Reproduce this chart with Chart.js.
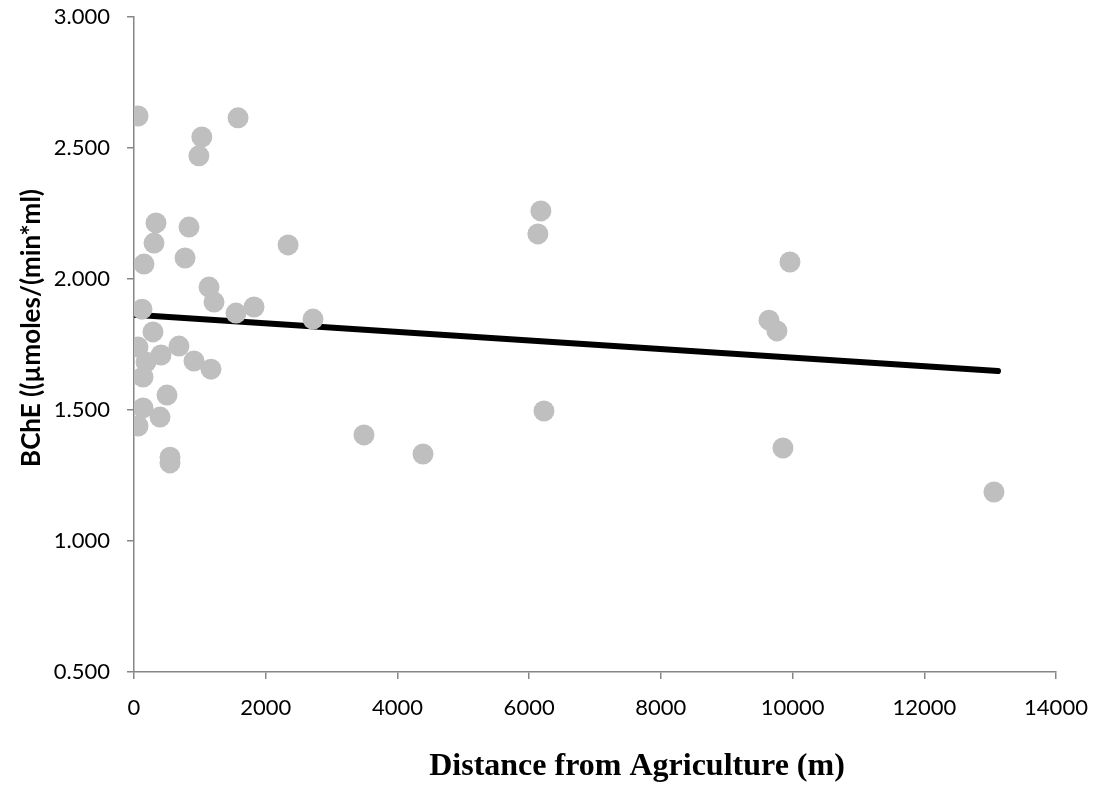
<!DOCTYPE html>
<html>
<head>
<meta charset="utf-8">
<script src="https://cdn.jsdelivr.net/npm/chart.js@4"></script>
<style>
  html, body { margin: 0; padding: 0; background: #fff; }
  #wrap { width: 1096px; height: 787px; }
</style>
</head>
<body>
<div id="wrap"><canvas id="chart" width="1096" height="787"></canvas></div>
<script>
// distance from agriculture (m) and BChE activity for each sample
const distance = [61, 1580, 1030, 985, 334, 835, 304, 2340, 152, 775, 1139, 1215, 121, 1549,
  1822, 2718, 288, 61, 683, 410, 182, 911, 1169, 137, 501, 137, 395, 61, 547, 547,
  3492, 4388, 6178, 6133, 6225, 9642, 9763, 9960, 9854, 13058];
const bche = [2.622, 2.615, 2.542, 2.470, 2.214, 2.198, 2.137, 2.130, 2.057, 2.080, 1.969, 1.912, 1.885, 1.870,
  1.893, 1.847, 1.798, 1.740, 1.744, 1.710, 1.683, 1.687, 1.656, 1.626, 1.557, 1.508, 1.473, 1.439, 1.320, 1.298,
  1.405, 1.332, 2.260, 2.172, 1.496, 1.843, 1.802, 2.065, 1.355, 1.187];

// linear trendline end points
const trendX = [0, 13119];
const trendY = [1.864, 1.649];

const xTicks = [0, 2000, 4000, 6000, 8000, 10000, 12000, 14000];
const yTicks = [0.5, 1.0, 1.5, 2.0, 2.5, 3.0];

const xTitle = 'Distance from Agriculture (m)';
const yTitle = 'BChE ((µmoles/(min*ml)';

const points = distance.map((d, i) => ({ x: d, y: bche[i] }));
const trend = trendX.map((d, i) => ({ x: d, y: trendY[i] }));

// axis titles sit a little off the axis centre, like the Excel original
const axisTitles = {
  id: 'axisTitles',
  afterDraw(chart) {
    const c = chart.ctx;
    c.save();
    c.fillStyle = '#000';
    c.textAlign = 'center';
    c.textBaseline = 'alphabetic';
    c.font = 'bold 32px "Liberation Serif"';
    c.fillText(xTitle, 637, 775);
    c.translate(40, 328);
    c.rotate(-Math.PI / 2);
    c.font = 'bold 26px Lato';
    c.fillText(yTitle, 0, 0);
    c.restore();
  }
};

const ctx = document.getElementById('chart').getContext('2d');

new Chart(ctx, {
  type: 'scatter',
  data: {
    datasets: [
      {
        data: points,
        backgroundColor: '#bfbfbf',
        borderWidth: 0,
        pointRadius: 10.5,
        pointHoverRadius: 10.5
      },
      {
        type: 'line',
        data: trend,
        borderColor: '#000',
        borderWidth: 6,
        borderCapStyle: 'round',
        pointRadius: 0,
        fill: false
      }
    ]
  },
  options: {
    responsive: false,
    animation: false,
    layout: { padding: { top: 17, right: 40, left: 0, bottom: 0 } },
    plugins: { legend: { display: false }, tooltip: { enabled: false } },
    scales: {
      x: {
        type: 'linear',
        min: 0,
        max: 14000,
        afterBuildTicks: (s) => { s.ticks = xTicks.map(v => ({ value: v })); },
        afterFit: (s) => { s.height = 115; s.paddingLeft = 0; s.paddingRight = 0; },
        border: { color: '#868686', width: 1.5 },
        grid: { drawOnChartArea: false, drawTicks: true, tickLength: 7, color: '#868686', lineWidth: 1.5 },
        ticks: {
          color: '#000',
          font: { family: 'Lato', size: 22 },
          padding: 16,
          maxRotation: 0,
          callback: (v) => String(v)
        }
      },
      y: {
        min: 0.5,
        max: 3.0,
        afterBuildTicks: (s) => { s.ticks = yTicks.map(v => ({ value: v })); },
        afterFit: (s) => { s.width = 134; s.paddingTop = 0; s.paddingBottom = 0; },
        border: { color: '#868686', width: 1.5 },
        grid: { drawOnChartArea: false, drawTicks: true, tickLength: 7, color: '#868686', lineWidth: 1.5 },
        ticks: {
          color: '#000',
          font: { family: 'Lato', size: 22 },
          padding: 17,
          callback: (v) => v.toFixed(3)
        }
      }
    }
  },
  plugins: [axisTitles]
});
</script>
</body>
</html>
